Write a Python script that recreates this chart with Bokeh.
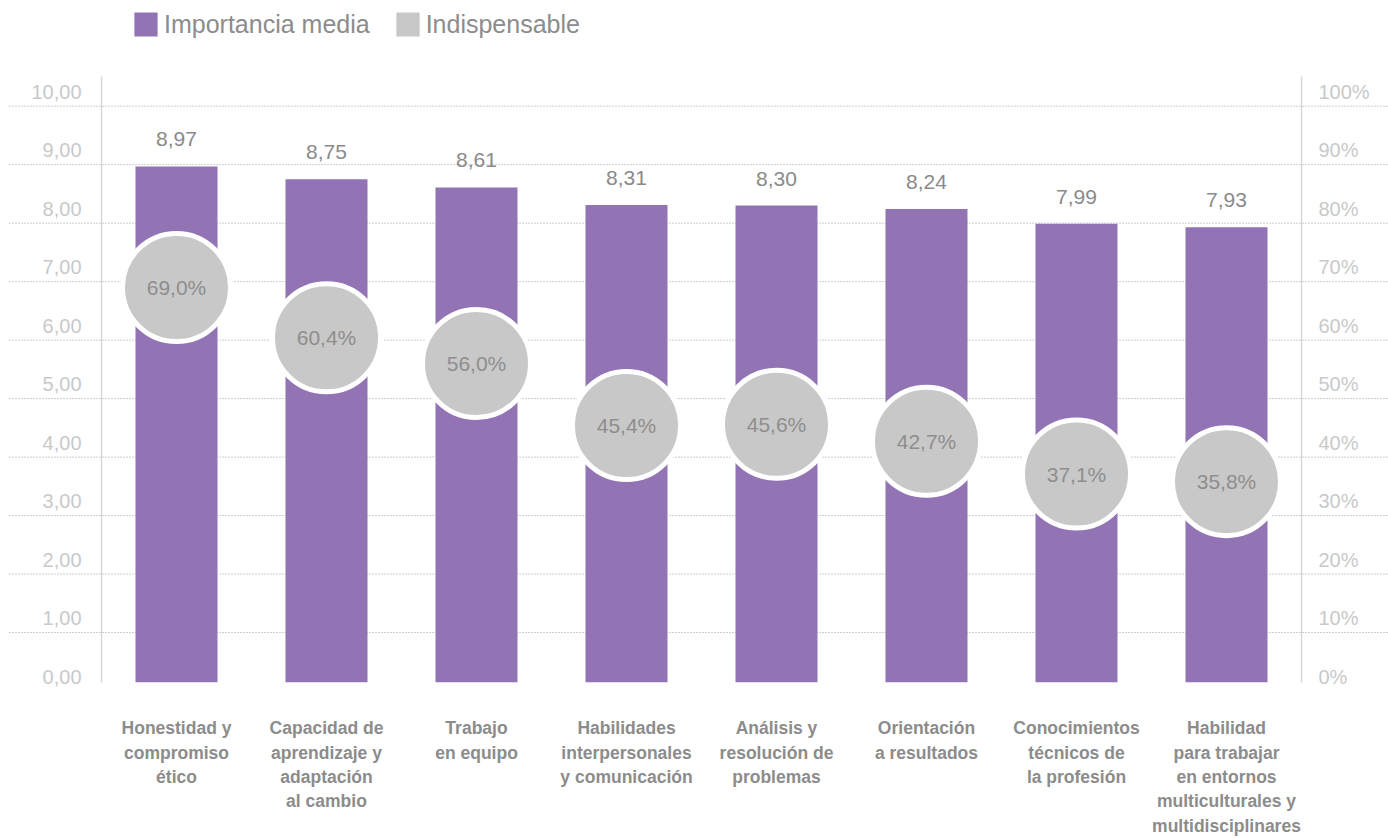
from bokeh.plotting import figure
from bokeh.models import ColumnDataSource, Range1d, Legend, LegendItem
from bokeh.core.properties import value
from bokeh.embed import file_html
from bokeh.resources import INLINE

# ---------------- data ----------------
categories = [
    "Honestidad y\ncompromiso\nético",
    "Capacidad de\naprendizaje y\nadaptación\nal cambio",
    "Trabajo\nen equipo",
    "Habilidades\ninterpersonales\ny comunicación",
    "Análisis y\nresolución de\nproblemas",
    "Orientación\na resultados",
    "Conocimientos\ntécnicos de\nla profesión",
    "Habilidad\npara trabajar\nen entornos\nmulticulturales y\nmultidisciplinares",
]
importancia_media = [8.97, 8.75, 8.61, 8.31, 8.30, 8.24, 7.99, 7.93]
indispensable_pct = [69.0, 60.4, 56.0, 45.4, 45.6, 42.7, 37.1, 35.8]
left_ticks = [0, 1, 2, 3, 4, 5, 6, 7, 8, 9, 10]
left_tick_labels = ["0,00", "1,00", "2,00", "3,00", "4,00", "5,00",
                    "6,00", "7,00", "8,00", "9,00", "10,00"]
right_tick_labels = ["0%", "10%", "20%", "30%", "40%", "50%",
                     "60%", "70%", "80%", "90%", "100%"]
grid_ticks = [1, 2, 3, 4, 5, 6, 7, 8, 9, 10]

# ---------------- layout / style ----------------
W, H = 1388, 838
CAT_PX = 150.0          # px per category
X0_PX = 176.0           # px of first category centre inside figure
Y0_PX = 690.5           # px (from top) of value 0
UNIT_PX = 58.48         # px per value unit
BASE = 0.15             # visible baseline of bars / axes
AXIS_TOP = 10.51

PURPLE = "#9274b4"
GREY_CIRCLE = "#c8c8c8"
TXT = "#8c8c8c"
AX_TXT = "#c9c9c9"
AX_LINE = "#d6d6d6"
FONT = value("Liberation Sans")

n = len(categories)
xs = list(range(n))

p = figure(width=W, height=H, output_backend="svg", toolbar_location=None,
           x_range=Range1d(-X0_PX / CAT_PX, (W - X0_PX) / CAT_PX),
           y_range=Range1d(-(H - Y0_PX) / UNIT_PX, Y0_PX / UNIT_PX),
           x_axis_location=None, y_axis_location=None,
           min_border=0, tools="")
p.outline_line_color = None
p.grid.visible = False
p.background_fill_color = "white"

# gridlines
x_lo, x_hi = p.x_range.start + 9 / CAT_PX, p.x_range.end
p.segment(x0=[x_lo] * len(grid_ticks), x1=[x_hi] * len(grid_ticks),
          y0=grid_ticks, y1=grid_ticks, line_color="#9c9c9c",
          line_width=1, line_dash="1 2")

# axis lines
p.segment(x0=[-0.5, n - 0.5], x1=[-0.5, n - 0.5], y0=[BASE, BASE],
          y1=[AXIS_TOP, AXIS_TOP], line_color=AX_LINE, line_width=1.5)

# axis tick labels
p.text(x=[-0.5] * len(left_ticks), y=left_ticks, text=left_tick_labels,
       x_offset=-20, y_offset=-14.5, text_align="right", text_baseline="middle",
       text_font=FONT, text_font_size="20px", text_color=AX_TXT)
p.text(x=[n - 0.5] * len(left_ticks), y=left_ticks, text=right_tick_labels,
       x_offset=17, y_offset=-14.5, text_align="left", text_baseline="middle",
       text_font=FONT, text_font_size="20px", text_color=AX_TXT)

src = ColumnDataSource(dict(
    x=xs, cat=categories, imp=importancia_media,
    imp_lbl=[f"{v:.2f}".replace(".", ",") for v in importancia_media],
    pct=[v / 10 for v in indispensable_pct],
    pct_lbl=[f"{v:.1f}".replace(".", ",") + "%" for v in indispensable_pct],
    base=[BASE] * n,
))

bars = p.vbar(x="x", top="imp", bottom="base", width=82 / CAT_PX,
              fill_color=PURPLE, line_color=None, source=src)
# zero-height proxy used only for the legend swatch of "Indispensable"
proxy = p.vbar(x="x", top="base", bottom="base", width=82 / CAT_PX,
               fill_color=GREY_CIRCLE, line_color=None, source=src)

p.text(x="x", y="imp", text="imp_lbl", source=src, y_offset=-27,
       text_align="center", text_baseline="middle", text_font=FONT,
       text_font_size="21px", text_color="#8a8a8a")

p.scatter(x="x", y="pct", source=src, marker="circle", size=108,
          fill_color=GREY_CIRCLE, line_color="white", line_width=5)
p.text(x="x", y="pct", text="pct_lbl", source=src, text_align="center",
       text_baseline="middle", text_font=FONT, text_font_size="21px",
       text_color="#8e8e8e")

# category labels
p.text(x="x", y="base", text="cat", source=src, y_offset=36,
       text_align="center", text_baseline="top", text_font=FONT,
       text_font_style="bold", text_font_size="17.5px", text_color=TXT,
       text_line_height=1.22)

# legend
legend = Legend(items=[LegendItem(label="Importancia media", renderers=[bars]),
                       LegendItem(label="Indispensable", renderers=[proxy])],
                orientation="horizontal", location=(131, 799),
                glyph_width=29, glyph_height=30, label_standoff=4, spacing=23,
                padding=0, margin=0, border_line_color=None,
                background_fill_alpha=0, label_text_font="Liberation Sans",
                label_text_font_size="25px", label_text_color=TXT)
p.add_layout(legend)

open("out.html", "w").write(file_html(p, INLINE))
